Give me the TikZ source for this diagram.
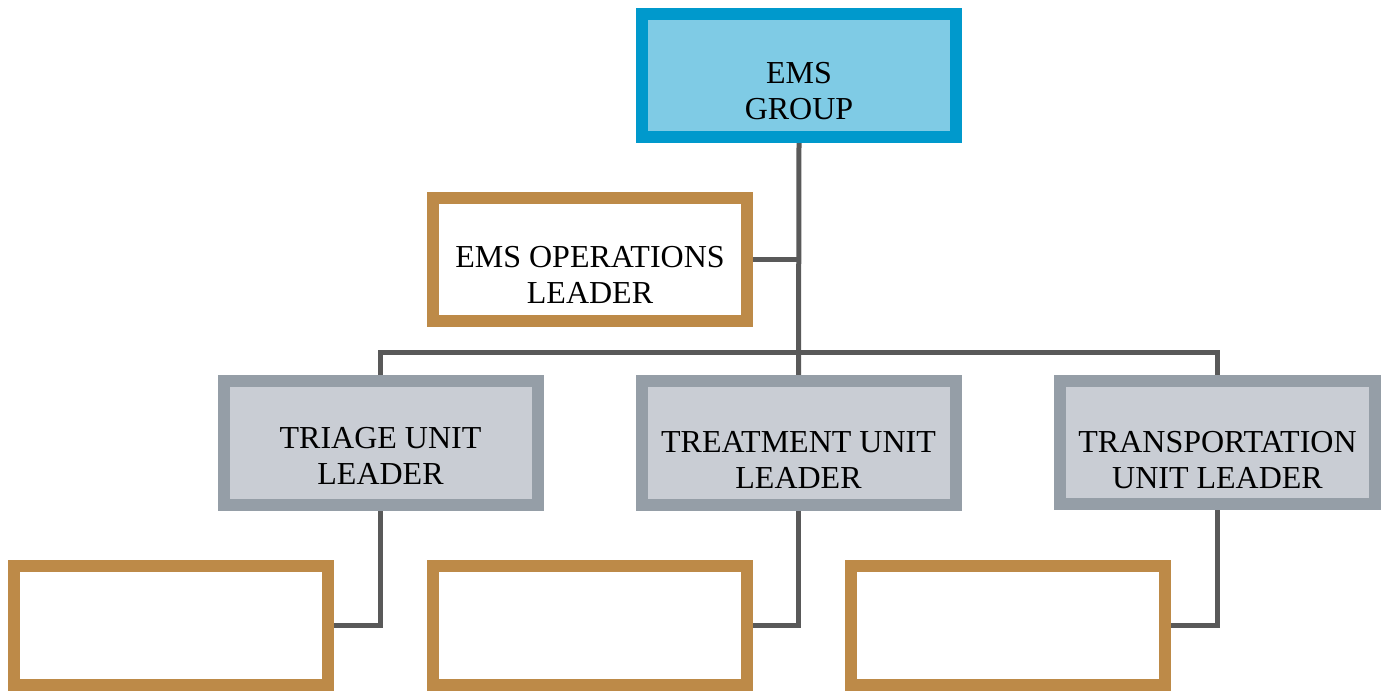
\documentclass[tikz,border=0pt]{standalone}
\usepackage{fontspec}
\setmainfont{Liberation Serif}
\pgfdeclarelayer{background}
\pgfsetlayers{background,main}
\definecolor{bluebd}{HTML}{0099CC}
\definecolor{bluefill}{HTML}{7FCBE5}
\definecolor{tanbd}{HTML}{BD8A48}
\definecolor{graybd}{HTML}{959EA7}
\definecolor{grayfill}{HTML}{C9CDD4}
\definecolor{connc}{HTML}{595959}
\tikzset{
  box/.style={rectangle, line width=12pt, minimum width=314pt, minimum height=123pt, inner sep=0pt},
  bluebox/.style={box, draw=bluebd, fill=bluefill},
  tanbox/.style={box, draw=tanbd, fill=white},
  graybox/.style={box, draw=graybd, fill=grayfill},
  lbl/.style={align=center, font=\fontsize{32}{36}\selectfont, inner sep=0pt, text=black},
  conn/.style={draw=connc, line width=5pt}
}
\begin{document}
\begin{tikzpicture}[x=1pt,y=-1pt]
\useasboundingbox (0,0) rectangle (1381,691);
\node[bluebox] (grp) at (799,75.5) {};
\node[lbl] (grpt) at (799,91) {EMS\\GROUP};
\node[tanbox] (ops) at (590,259.5) {};
\node[lbl] (opst) at (590,275) {EMS OPERATIONS\\LEADER};
\node[graybox, minimum height=124pt] (triage) at (380.5,443) {};
\node[lbl] (triaget) at (380.5,456) {TRIAGE UNIT\\LEADER};
\node[graybox, minimum height=124pt] (treat) at (798.5,443) {};
\node[lbl] (treatt) at (798.5,460) {TREATMENT UNIT\\LEADER};
\node[graybox, minimum width=315pt] (trans) at (1217.5,442.5) {};
\node[lbl] (transt) at (1217.5,460) {TRANSPORTATION\\UNIT LEADER};
\node[tanbox, minimum height=119pt] (b1) at (171,625.5) {};
\node[tanbox, minimum height=119pt] (b2) at (589.5,625.5) {};
\node[tanbox, minimum height=119pt] (b3) at (1007.5,625.5) {};
\coordinate (bar) at (798.5,352);
\begin{pgfonlayer}{background}
\draw[conn] (grp.south) -- (treat.north);
\draw[conn] (ops.east) -- (ops.east -| grp.south);
\draw[conn] (triage.north) |- (bar) -| (trans.north);
\draw[conn] (triage.south) |- (b1.east);
\draw[conn] (treat.south) |- (b2.east);
\draw[conn] (trans.south) |- (b3.east);
\end{pgfonlayer}
\end{tikzpicture}
\end{document}
